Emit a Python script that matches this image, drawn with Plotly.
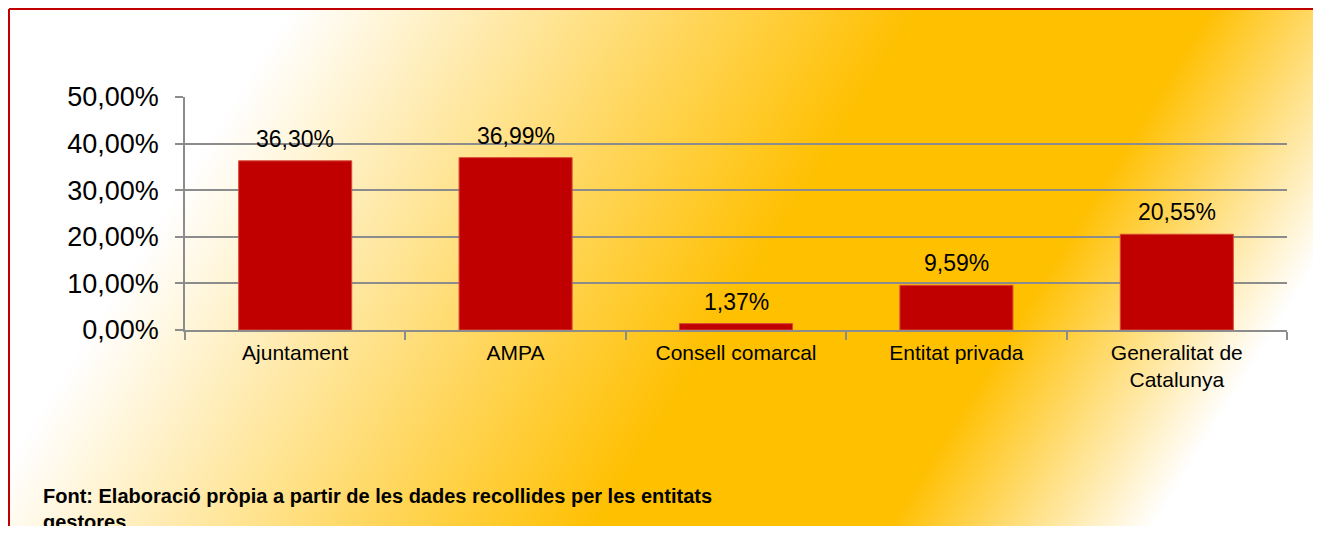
import base64
import struct
import zlib

import numpy as np
import plotly.graph_objects as go

categories = ["Ajuntament", "AMPA", "Consell comarcal", "Entitat privada", "Generalitat de<br>Catalunya"]
percentages = [36.30, 36.99, 1.37, 9.59, 20.55]
source_note = "Font: Elaboració pròpia a partir de les dades recollides per les entitats<br>gestores"

# the page puts the figure 8px in from the window corner
OFF = 8
W, H = 1305, 518
L, R, T, B = 185 - OFF, 1287 - OFF, 97 - OFF, 330 - OFF  # plot area in figure pixels


def px_x(x):
    return (x - L) / (R - L)


def px_y(y):
    return (B - y) / (B - T)


def png_uri(rgb):
    h, w, _ = rgb.shape
    raw = b"".join(b"\x00" + rgb[i].tobytes() for i in range(h))

    def chunk(tag, data):
        c = struct.pack(">I", len(data)) + tag + data
        return c + struct.pack(">I", zlib.crc32(tag + data) & 0xFFFFFFFF)

    png = (b"\x89PNG\r\n\x1a\n"
           + chunk(b"IHDR", struct.pack(">IIBBBBB", w, h, 8, 2, 0, 0, 0))
           + chunk(b"IDAT", zlib.compress(raw, 9))
           + chunk(b"IEND", b""))
    return "data:image/png;base64," + base64.b64encode(png).decode()


# diagonal white -> gold -> white background (in window pixels)
x0, y0 = 1, 1
step = 2
xs = OFF + x0 + (np.arange((W - x0) // step + 1) + 0.5) * step
ys = OFF + y0 + (np.arange((H - y0) // step + 1) + 0.5) * step
t = xs[None, :] + 0.62 * ys[:, None]
stops = [0, 300, 930, 1215, 1480, 4000]
g = np.interp(t, stops, [255, 255, 192, 192, 255, 255])
b = np.interp(t, stops, [255, 255, 0, 0, 255, 255])
img = np.stack([np.full_like(g, 255), g, b], axis=-1).astype(np.uint8)

fig = go.Figure()
fig.add_trace(go.Bar(
    x=categories, y=percentages,
    marker=dict(color="#C00000", line=dict(color="#D84A3A", width=1)),
    hoverinfo="skip",
))

for cat, v in zip(categories, percentages):
    fig.add_annotation(
        x=cat, y=v, text=f"{v:.2f}".replace(".", ",") + "%",
        showarrow=False, yanchor="bottom", yshift=7,
        font=dict(size=23, color="#000000"),
    )

fig.add_annotation(
    xref="paper", yref="paper", x=px_x(41 - OFF), y=px_y(483 - OFF),
    xanchor="left", yanchor="top", align="left", showarrow=False,
    text="<b>" + source_note + "</b>",
    font=dict(size=20, color="#000000"),
)

fig.add_layout_image(
    source=png_uri(img), xref="paper", yref="paper",
    x=px_x(x0), y=px_y(y0), sizex=(W - x0) / (R - L), sizey=(H - y0) / (B - T),
    xanchor="left", yanchor="top", sizing="stretch", layer="below",
)

# red frame: only the top and left edges are inside the window
red_line = dict(color="#C00000", width=2)
fig.add_shape(type="line", xref="paper", yref="paper",
              x0=px_x(x0), y0=px_y(y0), x1=px_x(W), y1=px_y(y0), line=red_line)
fig.add_shape(type="line", xref="paper", yref="paper",
              x0=px_x(x0), y0=px_y(y0), x1=px_x(x0), y1=px_y(H), line=red_line)

grey = "#8C8C8C"
fig.update_xaxes(
    type="category", showline=True, linecolor=grey, linewidth=1.5,
    ticks="outside", tickson="boundaries", ticklen=8, tickcolor=grey, tickwidth=1.5,
    tickfont=dict(size=21, color="#000000"), showgrid=False,
    ticklabelstandoff=3,
)
fig.update_yaxes(
    range=[0, 50], dtick=10, tickformat=".2f", ticksuffix="%",
    showgrid=True, gridcolor=grey, gridwidth=1.5,
    showline=True, linecolor=grey, linewidth=1.5,
    ticks="outside", ticklen=8, tickcolor=grey, tickwidth=1.5,
    tickfont=dict(size=27, color="#000000"), zeroline=False,
    ticklabelstandoff=11,
)
fig.update_layout(
    width=W, height=H,
    margin=dict(l=L, r=W - R, t=T, b=H - B),
    bargap=0.487,
    separators=", ",
    font=dict(family="Liberation Sans, Arial, sans-serif", color="#000000"),
    paper_bgcolor="white", plot_bgcolor="rgba(0,0,0,0)",
    showlegend=False,
)

fig.write_html("out.html")
